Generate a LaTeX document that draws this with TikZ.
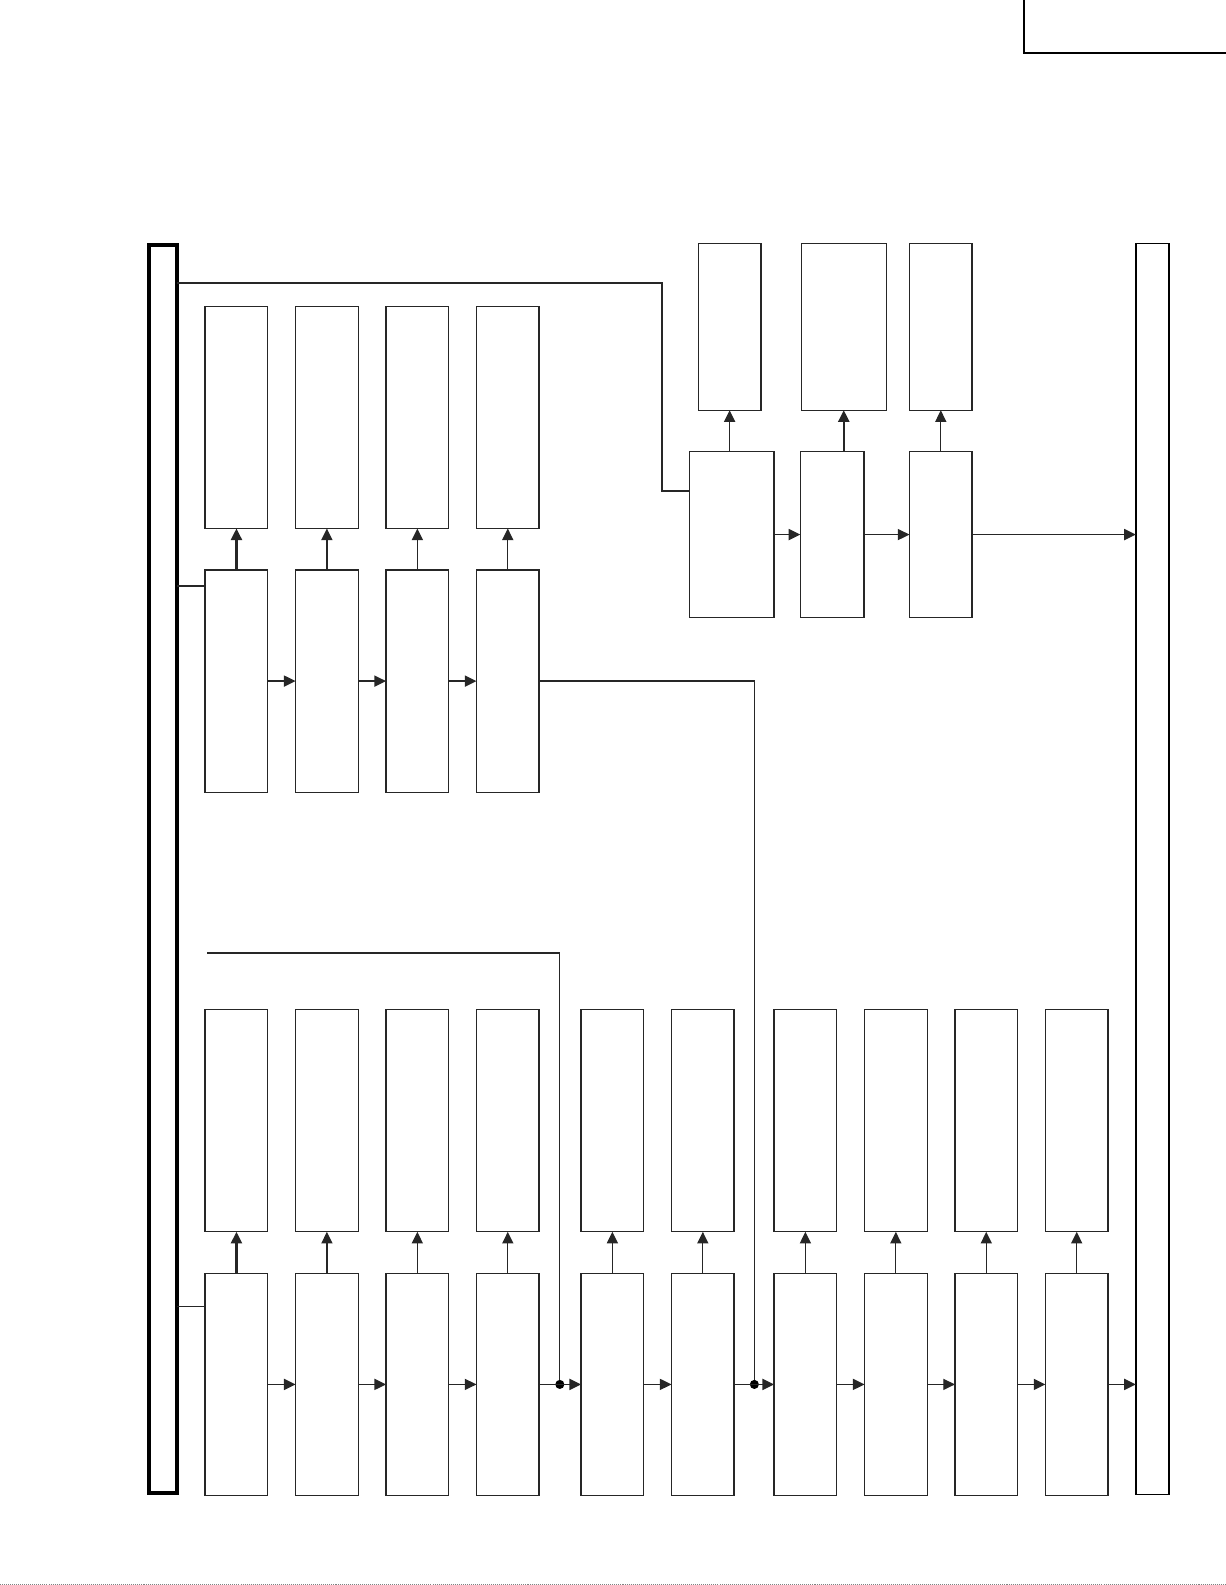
\documentclass[tikz,border=0pt]{standalone}
\usetikzlibrary{positioning,arrows.meta}
\begin{document}
\begin{tikzpicture}[
                x=1pt,
                y=-1pt,
                node distance=27.5pt,
                block/.style={
                    rectangle,
                    draw=black!85,
                    line width=1.3pt,
                    inner sep=0pt,
                    outer sep=0pt,
                    minimum width=62pt,
                    minimum height=220pt
                },
                shortblock/.style={
                    block,
                    minimum height=165pt
                },
                bus/.style={
                    rectangle,
                    draw,
                    inner sep=0pt,
                    outer sep=0pt,
                    minimum width=32pt,
                    minimum height=1238pt
                },
                line/.style={
                    draw=black!85,
                    line width=1.3pt
                },
                arr/.style={
                    line,
                    -{Triangle[length=11.5pt,width=11pt]}
                },
                dickarr/.style={
                    arr,
                    line width=2.2pt
                }]

                \useasboundingbox (0,0) rectangle (1212.3,1568.5);

                % Kopf rechts oben
                \node [rectangle, draw, line width=2pt, inner sep=0pt, outer sep=0pt, minimum width=240pt, minimum height=62pt, anchor=north west] (kopf) at (1013,-10) {};

                % Sammelschienen
                \node [bus, line width=4pt, minimum width=28pt, minimum height=1235pt, anchor=north west] (bus_links) at (147,242) {};
                \node [bus, line width=1.6pt, minimum width=33pt, anchor=north west] (bus_rechts) at (1124,241) {};

                % obere Gruppe links
                \node [block, anchor=north west] (ol_1) at (203,564) {};
                \node [block, right=of ol_1] (ol_2) {};
                \node [block, right=of ol_2] (ol_3) {};
                \node [block, right=of ol_3] (ol_4) {};

                \node [block, above=41pt of ol_1] (ob_1) {};
                \node [block, above=41pt of ol_2] (ob_2) {};
                \node [block, above=41pt of ol_3] (ob_3) {};
                \node [block, above=41pt of ol_4] (ob_4) {};

                % obere Gruppe rechts
                \node [shortblock, minimum width=84pt, minimum height=164pt, anchor=north west] (r_1) at (682,447) {};
                \node [shortblock, minimum width=63pt, minimum height=164pt, right=26pt of r_1] (r_2) {};
                \node [shortblock, minimum height=164pt, right=45pt of r_2] (r_3) {};

                \node [shortblock, above=41pt of r_1, xshift=-2pt] (rt_1) {};
                \node [shortblock, minimum width=84pt, anchor=north west] (rt_2) at (793,241) {};
                \node [shortblock, above=41pt of r_3] (rt_3) {};

                % untere Gruppe
                \node [block, anchor=north west] (ul_1) at (203,1260) {};
                \node [block, right=of ul_1] (ul_2) {};
                \node [block, right=of ul_2] (ul_3) {};
                \node [block, right=of ul_3] (ul_4) {};
                \node [block, right=41.5pt of ul_4] (ul_5) {};
                \node [block, right=of ul_5] (ul_6) {};
                \node [block, right=39.5pt of ul_6] (ul_7) {};
                \node [block, right=of ul_7] (ul_8) {};
                \node [block, right=of ul_8] (ul_9) {};
                \node [block, right=of ul_9] (ul_10) {};

                \node [block, above=41pt of ul_1] (ub_1) {};
                \node [block, above=41pt of ul_2] (ub_2) {};
                \node [block, above=41pt of ul_3] (ub_3) {};
                \node [block, above=41pt of ul_4] (ub_4) {};
                \node [block, above=41pt of ul_5] (ub_5) {};
                \node [block, above=41pt of ul_6] (ub_6) {};
                \node [block, above=41pt of ul_7] (ub_7) {};
                \node [block, above=41pt of ul_8] (ub_8) {};
                \node [block, above=41pt of ul_9] (ub_9) {};
                \node [block, above=41pt of ul_10] (ub_10) {};

                % Abzweige
                \coordinate (abzweig_oben) at ([yshift=-38pt]bus_links.north east);
                \coordinate (abzweig_r) at ([yshift=-39pt]r_1.north west);
                \coordinate (abzweig_ol) at ([yshift=-16pt]ol_1.north west);
                \coordinate (abzweig_ul) at ([yshift=-33pt]ul_1.north west);
                \coordinate (punkt_a) at ([xshift=20.5pt]ul_4.east);
                \coordinate (punkt_b) at ([xshift=20pt]ul_6.east);
                \coordinate (einspeisung) at (205,943);

                \draw [line] (abzweig_oben) -| ([xshift=-27pt]abzweig_r) -- (abzweig_r);
                \draw [line] (abzweig_ol) -- (abzweig_ol -| bus_links.east);
                \draw [line] (abzweig_ul) -- (abzweig_ul -| bus_links.east);
                \draw [line] (ol_4.east) -| (punkt_b);
                \draw [line] (einspeisung) -| (punkt_a);
                \fill (punkt_a) circle (4.5pt);
                \fill (punkt_b) circle (4.5pt);

                % obere Gruppe links
                \draw [dickarr] (ol_1) -- (ob_1);
                \draw [arr] (ol_2) -- (ob_2);
                \draw [arr] (ol_3) -- (ob_3);
                \draw [arr] (ol_4) -- (ob_4);
                \draw [arr] (ol_1) -- (ol_2);
                \draw [arr] (ol_2) -- (ol_3);
                \draw [arr] (ol_3) -- (ol_4);

                % obere Gruppe rechts
                \draw [arr] (rt_1.south |- r_1.north) -- (rt_1.south);
                \draw [dickarr] (r_2.north -| rt_2.south) -- (rt_2.south);
                \draw [arr] (r_3) -- (r_3 |- rt_3.south);
                \draw [arr] (r_1) -- (r_2);
                \draw [arr] (r_2) -- (r_3);
                \draw [arr] (r_3) -- (r_3 -| bus_rechts.west);

                % untere Gruppe
                \draw [dickarr] (ul_1) -- (ub_1);
                \draw [arr] (ul_2) -- (ub_2);
                \draw [arr] (ul_3) -- (ub_3);
                \draw [arr] (ul_4) -- (ub_4);
                \draw [arr] (ul_5) -- (ub_5);
                \draw [arr] (ul_6) -- (ub_6);
                \draw [arr] (ul_7) -- (ub_7);
                \draw [arr] (ul_8) -- (ub_8);
                \draw [arr] (ul_9) -- (ub_9);
                \draw [arr] (ul_10) -- (ub_10);

                \draw [arr] (ul_1) -- (ul_2);
                \draw [arr] (ul_2) -- (ul_3);
                \draw [arr] (ul_3) -- (ul_4);
                \draw [arr] (ul_4) -- (ul_5);
                \draw [arr] (ul_5) -- (ul_6);
                \draw [arr] (ul_6) -- (ul_7);
                \draw [arr] (ul_7) -- (ul_8);
                \draw [arr] (ul_8) -- (ul_9);
                \draw [arr] (ul_9) -- (ul_10);
                \draw [arr] (ul_10) -- (ul_10 -| bus_rechts.west);

                % Rand unten
                \draw [gray, line width=1pt, dash pattern=on 1pt off 1pt] (0,1567.6) -- (1212.3,1567.6);

            \end{tikzpicture}
\end{document}
